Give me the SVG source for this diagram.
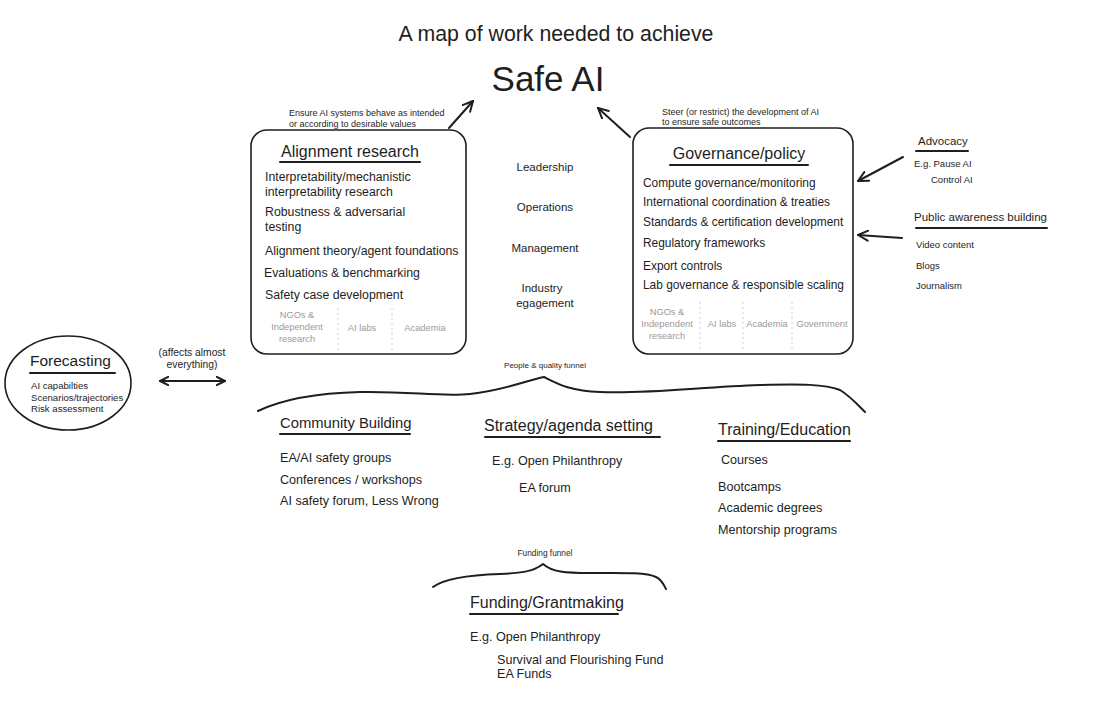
<svg xmlns="http://www.w3.org/2000/svg" width="1100" height="701" viewBox="0 0 1100 701">
<style>
text{font-family:"Liberation Sans",Arial,sans-serif;fill:#1e1e1e}
.box{fill:none;stroke:#1e1e1e;stroke-width:1.6}
.ul{stroke:#1e1e1e;stroke-width:2;fill:none;stroke-linecap:round}
.h{font-size:16px}
.it{font-size:12.3px}
.git{font-size:11.9px}
.sm{font-size:9px}
.gr{font-size:9.3px;fill:#9a9a9a;text-anchor:middle}
.div{stroke:#cfcfcf;stroke-width:1;stroke-dasharray:2 3}
.mid{font-size:11.5px;text-anchor:middle}
.side{font-size:9.5px}
.arr{stroke:#1e1e1e;stroke-width:2;fill:none;stroke-linecap:round}
.brace{stroke:#1e1e1e;stroke-width:2;fill:none;stroke-linecap:round;stroke-linejoin:round}
</style>
<defs>
<marker id="ah" viewBox="0 0 12 12" refX="11" refY="6" markerWidth="12" markerHeight="12" markerUnits="userSpaceOnUse" orient="auto-start-reverse">
<path d="M1,1 L11,6 L1,11" fill="none" stroke="#1e1e1e" stroke-width="2" stroke-linecap="round" stroke-linejoin="round"/>
</marker>
<marker id="ahb" viewBox="0 0 12 12" refX="11" refY="6" markerWidth="5" markerHeight="5" markerUnits="strokeWidth" orient="auto-start-reverse">
<path d="M1,1 L11,6 L1,11" fill="none" stroke="#1e1e1e" stroke-width="2.4" stroke-linecap="round" stroke-linejoin="round"/>
</marker>
</defs>
<rect width="1100" height="701" fill="#ffffff"/>

<g id="title">
<text x="556" y="41" font-size="21.3" text-anchor="middle">A map of work needed to achieve</text>
<text x="548" y="91" font-size="35" text-anchor="middle">Safe AI</text>
</g>

<g id="alignment">
<text x="289" y="116" class="sm">Ensure AI systems behave as intended</text>
<text x="289" y="127" class="sm">or according to desirable values</text>
<rect x="251" y="130" width="215" height="224" rx="16" class="box"/>
<text x="350" y="157" class="h" text-anchor="middle">Alignment research</text>
<line x1="280" y1="162" x2="420" y2="162" class="ul"/>
<text x="265" y="181" class="it">Interpretability/mechanistic</text>
<text x="265" y="196" class="it">interpretability research</text>
<text x="265" y="216" class="it">Robustness &amp; adversarial</text>
<text x="265" y="231" class="it">testing</text>
<text x="265" y="255" class="it">Alignment theory/agent foundations</text>
<text x="264" y="277" class="it">Evaluations &amp; benchmarking</text>
<text x="265" y="299" class="it">Safety case development</text>
<text x="297" y="318" class="gr">NGOs &amp;</text>
<text x="297" y="330" class="gr">Independent</text>
<text x="297" y="342" class="gr">research</text>
<text x="362" y="331" class="gr">AI labs</text>
<text x="425" y="331" class="gr">Academia</text>
<line x1="338" y1="308" x2="338" y2="350" class="div"/>
<line x1="392" y1="308" x2="392" y2="350" class="div"/>
</g>

<g id="governance">
<text x="662" y="115" class="sm" font-size="8.6">Steer (or restrict) the development of AI</text>
<text x="662" y="125" class="sm" font-size="8.6">to ensure safe outcomes</text>
<rect x="633" y="128" width="220" height="226" rx="16" class="box"/>
<text x="739" y="159" class="h" text-anchor="middle">Governance/policy</text>
<line x1="670" y1="165" x2="808" y2="165" class="ul"/>
<text x="643" y="187" class="git">Compute governance/monitoring</text>
<text x="643" y="206" class="git">International coordination &amp; treaties</text>
<text x="643" y="226" class="git">Standards &amp; certification development</text>
<text x="643" y="247" class="git">Regulatory frameworks</text>
<text x="643" y="270" class="git">Export controls</text>
<text x="643" y="289" class="git">Lab governance &amp; responsible scaling</text>
<text x="667" y="315" class="gr">NGOs &amp;</text>
<text x="667" y="327" class="gr">Independent</text>
<text x="667" y="339" class="gr">research</text>
<text x="722" y="327" class="gr">AI labs</text>
<text x="767" y="327" class="gr">Academia</text>
<text x="822" y="327" class="gr">Government</text>
<line x1="700" y1="302" x2="700" y2="350" class="div"/>
<line x1="743" y1="302" x2="743" y2="350" class="div"/>
<line x1="792" y1="302" x2="792" y2="350" class="div"/>
</g>

<g id="roles">
<text x="545" y="171" class="mid">Leadership</text>
<text x="545" y="211" class="mid">Operations</text>
<text x="545" y="252" class="mid">Management</text>
<text x="542" y="292" class="mid">Industry</text>
<text x="545" y="307" class="mid">egagement</text>
</g>

<g id="advocacy">
<text x="918" y="145" font-size="11.5">Advocacy</text>
<line x1="916" y1="151" x2="968" y2="151" class="ul" stroke-width="1.6"/>
<text x="914" y="167" class="side">E.g. Pause AI</text>
<text x="931" y="183" class="side">Control AI</text>
</g>

<g id="public-awareness">
<text x="914" y="221" font-size="11.5">Public awareness building</text>
<line x1="916" y1="228" x2="1047" y2="228" class="ul" stroke-width="1.6"/>
<text x="916" y="248" class="side">Video content</text>
<text x="916" y="269" class="side">Blogs</text>
<text x="916" y="289" class="side">Journalism</text>
</g>

<g id="forecasting">
<ellipse cx="68" cy="383" rx="63" ry="47" class="box"/>
<text x="30" y="366" font-size="15.5">Forecasting</text>
<line x1="30" y1="373" x2="115" y2="373" class="ul"/>
<text x="31" y="389" font-size="9.6">AI capabilties</text>
<text x="31" y="401" font-size="9.6">Scenarios/trajectories</text>
<text x="31" y="412" font-size="9.6">Risk assessment</text>
<text x="192" y="356" font-size="10.3" text-anchor="middle">(affects almost</text>
<text x="192" y="368" font-size="10.3" text-anchor="middle">everything)</text>
</g>

<g id="community-building">
<text x="280" y="428" font-size="14.8">Community Building</text>
<line x1="280" y1="434" x2="410" y2="434" class="ul"/>
<text x="280" y="462" font-size="12.6">EA/AI safety groups</text>
<text x="280" y="484" font-size="12.6">Conferences / workshops</text>
<text x="280" y="505" font-size="12.6">AI safety forum, Less Wrong</text>
</g>

<g id="strategy">
<text x="484" y="431" font-size="16">Strategy/agenda setting</text>
<line x1="485" y1="437" x2="660" y2="437" class="ul"/>
<text x="492" y="465" font-size="12.6">E.g. Open Philanthropy</text>
<text x="519" y="492" font-size="12.6">EA forum</text>
</g>

<g id="training">
<text x="718" y="435" font-size="16">Training/Education</text>
<line x1="718" y1="441" x2="850" y2="441" class="ul"/>
<text x="721" y="464" font-size="12.6">Courses</text>
<text x="718" y="491" font-size="12.6">Bootcamps</text>
<text x="718" y="512" font-size="12.6">Academic degrees</text>
<text x="718" y="534" font-size="12.6">Mentorship programs</text>
</g>

<g id="funding">
<text x="545" y="556" font-size="8.3" text-anchor="middle">Funding funnel</text>
<text x="470" y="608" font-size="16">Funding/Grantmaking</text>
<line x1="470" y1="614" x2="618" y2="614" class="ul"/>
<text x="470" y="641" font-size="12.6">E.g. Open Philanthropy</text>
<text x="497" y="664" font-size="12.6">Survival and Flourishing Fund</text>
<text x="497" y="678" font-size="12.6">EA Funds</text>
</g>

<g id="funnel-label">
<text x="545" y="368" font-size="8" text-anchor="middle">People &amp; quality funnel</text>
</g>

<g id="connectors">
<line x1="449" y1="128" x2="473" y2="101" class="arr" marker-end="url(#ah)"/>
<line x1="630" y1="137" x2="598" y2="108" class="arr" marker-end="url(#ah)"/>
<line x1="903" y1="157" x2="858" y2="181" class="arr" stroke-width="1.5" marker-end="url(#ah)"/>
<line x1="902" y1="238" x2="858" y2="235" class="arr" marker-end="url(#ah)"/>
<line x1="160" y1="381" x2="225" y2="381" class="arr" stroke-width="3" marker-start="url(#ahb)" marker-end="url(#ahb)"/>
<path d="M258,411 C285,398 320,393 360,392 C410,391 440,397 470,394 C505,390 525,381 544,377 C558,384 570,391 600,392 C650,394 700,387 760,385 C800,384 825,384 840,390 C850,396 858,405 865,412" class="brace"/>
<path d="M433,587 C445,578 470,575 500,574 C520,573 533,572 543,564 C552,572 565,573 590,573 C620,573 645,572 656,577 C662,580 664,585 666,589" class="brace" stroke-width="2.5"/>
</g>
</svg>
